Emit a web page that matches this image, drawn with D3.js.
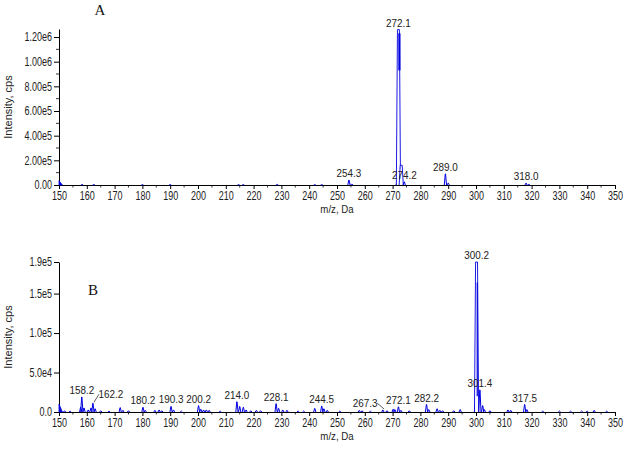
<!DOCTYPE html>
<html><head><meta charset="utf-8">
<script src="https://cdn.jsdelivr.net/npm/d3@7"></script>
<style>
body{margin:0;background:#fff;}
svg{display:block;font-family:"Liberation Sans",Arial,sans-serif;}
</style></head>
<body><svg id="c" width="629" height="453"></svg>
<script>
// ---------- data ----------
const xTickValues = [150,160,170,180,190,200,210,220,230,240,250,260,270,280,290,300,310,320,330,340,350];
const xMinorValues = [155,165,175,185,195,205,215,225,235,245,255,265,275,285,295,305,315,325,335,345];

// Panel A
const yTicksA = [0,200000,400000,600000,800000,1000000,1200000];
const yLabelsA = ["0.00","2.00e5","4.00e5","6.00e5","8.00e5","1.00e6","1.20e6"];
const yMinorA = [100000,300000,500000,700000,900000,1100000];
const peaksA_mz  = [158.3,162.5,180.0,190.0,214.6,216.3,228.5,242.0,244.5,254.3,255.3,271.6,272.1,273.1,274.2,289.0,290.0,318.0,319.0];
const peaksA_int = [4000,4000,3000,3000,4000,4000,5000,2000,3000,40000,8000,15000,1260000,160000,25000,90000,15000,15000,5000];
const edgeA = 35000;           // signal at the left edge (m/z 150)
const labelsA_mz   = [254.3,272.1,274.2,289.0,318.0];
const labelsA_int  = [40000,1260000,25000,90000,15000];
const labelsA_text = ["254.3","272.1","274.2","289.0","318.0"];

// Panel B
const yTicksB = [0,50000,100000,150000,190000];
const yLabelsB = ["0.0","5.0e4","1.0e5","1.5e5","1.9e5"];
const peaksB_mz  = [152.0,154.0,157.8,158.2,159.0,160.5,161.5,162.2,163.0,165.0,168.0,172.0,173.0,175.0,180.2,181.0,184.5,186.0,187.0,190.3,191.2,194.0,200.2,201.0,202.0,203.0,204.0,208.0,214.0,215.0,216.3,217.3,219.0,221.0,222.5,228.1,229.0,230.5,232.0,236.0,238.0,242.0,244.5,245.3,246.5,251.0,258.0,259.0,262.0,266.5,268.0,270.2,270.8,272.1,273.0,276.0,282.2,283.0,286.0,287.0,288.0,292.0,294.3,299.8,300.2,301.4,302.4,303.0,305.0,311.5,312.5,317.5,318.3,324.0,330.0,334.0,338.0,340.0,342.5,347.0];
const peaksB_int = [1500,1000,6000,19000,5000,2500,5000,11000,4000,1500,1000,5500,2000,1500,6000,2000,2000,2500,1500,7000,2500,1200,8000,3500,2500,2500,2000,1000,13000,7000,6000,2500,1500,2000,1500,10500,4500,2500,2000,1200,1200,4500,7500,4000,2000,1000,2000,1500,1000,2500,1500,3500,3000,6500,2000,1500,9500,3000,4000,2000,1500,1500,3000,10000,190000,28000,8000,3000,1500,2500,2000,9500,3000,1000,1200,1000,1200,1000,2000,1000];
const edgeB = 10000;
const labelsB_mz   = [158.2,162.2,180.2,190.3,200.2,214.0,228.1,244.5,267.3,272.1,282.2,300.2,301.4,317.5];
const labelsB_int  = [19000,11000,6000,7000,8000,13000,10500,7500,2500,6500,9500,190000,28000,9500];
const labelsB_text = ["158.2","162.2","180.2","190.3","200.2","214.0","228.1","244.5","267.3","272.1","282.2","300.2","301.4","317.5"];

// centroid (inner) traces of the main peaks: [m/z, top, bottom]
const innerA = [272.45, 1230000, 930000];
const innerB = [300.45, 164000, 20000];

// ---------- layout ----------
const svg = d3.select("#c");
const X0 = 59, X1 = 615;
const TICK_FONT = 12, TICK_SCALE = 0.75, LABEL_SCALE = 0.9;
const BLUE = "#0000e0";
// leader-line label offsets (pixels) for crowded labels in panel B
const labelShiftB = {"162.2":[18,-2], "267.3":[-20,0]};

function panel(cfg){
  const x = d3.scaleLinear().domain([150,350]).range([X0,X1]);
  const y = d3.scaleLinear().domain([0,cfg.yMax]).range([cfg.bottom,cfg.top]);
  const g = svg.append("g");

  // minor x ticks
  g.append("g").selectAll("line").data(xMinorValues).join("line")
    .attr("x1",d=>x(d)).attr("x2",d=>x(d))
    .attr("y1",cfg.bottom).attr("y2",cfg.bottom+2.5)
    .attr("stroke","#000").attr("stroke-width",0.8);
  if(cfg.yMinor){
    g.append("g").selectAll("line").data(cfg.yMinor).join("line")
      .attr("x1",X0-3).attr("x2",X0)
      .attr("y1",d=>y(d)).attr("y2",d=>y(d))
      .attr("stroke","#000").attr("stroke-width",0.8);
  }

  const xa = g.append("g").attr("transform",`translate(0,${cfg.bottom})`)
    .call(d3.axisBottom(x).tickValues(xTickValues).tickSize(4).tickSizeOuter(0).tickPadding(2).tickFormat(d3.format("d")));
  const ya = g.append("g").attr("transform",`translate(${X0},0)`)
    .call(d3.axisLeft(y).tickValues(cfg.yTicks).tickSize(5).tickSizeOuter(0).tickPadding(2)
      .tickFormat((d,i)=>cfg.yLabels[i]));
  [xa,ya].forEach(a=>{
    a.select(".domain").attr("stroke","#000").attr("stroke-width",1);
    a.selectAll(".tick line").attr("stroke","#000");
    a.selectAll("text").attr("font-size",TICK_FONT).attr("fill","#222")
      .attr("font-family","'Liberation Sans',Arial,sans-serif");
  });
  xa.selectAll("text").attr("transform",`scale(${TICK_SCALE},1)`);
  ya.selectAll("text").attr("x",-7/TICK_SCALE).attr("transform",`scale(${TICK_SCALE},1)`);

  // axis titles
  g.append("text").attr("transform",`translate(12,${(cfg.top+cfg.bottom)/2}) rotate(-90)`)
    .attr("text-anchor","middle").attr("font-size",11).attr("fill","#222").text("Intensity, cps");
  g.append("text").attr("transform",`translate(337,${cfg.bottom+28}) scale(0.88,1)`)
    .attr("text-anchor","middle").attr("font-size",11).attr("fill","#222").text("m/z, Da");

  // panel letter
  g.append("text").attr("x",cfg.letterX).attr("y",cfg.letterY)
    .attr("font-family","'Liberation Serif','Times New Roman',serif").attr("font-size",15)
    .attr("text-anchor","middle").attr("fill","#111").text(cfg.letter);

  // peaks
  const peaks = cfg.mz.map((m,i)=>({m, h:cfg.int[i]}));
  g.append("g").selectAll("path").data(peaks).join("path")
    .attr("d",d=>{
      const w = d.h > 100000 ? 0.75 : 0.4;
      const t = d.h > 100000 ? 0.35 : 0.05;
      return `M${x(d.m-w)},${y(0)}L${x(d.m-t)},${y(d.h)}L${x(d.m+t)},${y(d.h)}L${x(d.m+w)},${y(0)}`;
    })
    .attr("fill",d=>d.h>100000?"#fff":"none")
    .attr("stroke",BLUE).attr("stroke-width",d=>d.h>100000?0.9:1);
  // inner centroid trace
  g.append("line").attr("x1",x(cfg.inner[0])).attr("x2",x(cfg.inner[0]))
    .attr("y1",y(cfg.inner[1])).attr("y2",y(cfg.inner[2]))
    .attr("stroke",BLUE).attr("stroke-width",cfg.innerW);
  // edge signal at m/z 150
  g.append("path")
    .attr("d",`M${x(150)},${y(0)}L${x(150)},${y(cfg.edge)}L${x(151.2)},${y(0)}Z`)
    .attr("fill",BLUE).attr("stroke",BLUE).attr("stroke-width",0.8);

  // peak labels
  const labs = cfg.labMz.map((m,i)=>({m, h:cfg.labInt[i], t:cfg.labText[i]}));
  const lg = g.append("g");
  labs.forEach(d=>{
    const sh = (cfg.shift && cfg.shift[d.t]) || [0,0];
    const lx = x(d.m)+sh[0], ly = y(d.h)-3+sh[1];
    lg.append("text").attr("transform",`translate(${lx},${ly}) scale(${LABEL_SCALE},1)`)
      .attr("text-anchor","middle").attr("font-size",11).attr("fill","#222").text(d.t);
    if(sh[0]!==0){
      const ex = sh[0]>0 ? lx-12 : lx+12;
      lg.append("line").attr("x1",x(d.m)+(sh[0]>0?1:-1)).attr("y1",y(d.h)-1)
        .attr("x2",ex).attr("y2",ly-4).attr("stroke","#333").attr("stroke-width",0.8);
    }
  });
}

panel({top:29,bottom:185,yMax:1265000,yTicks:yTicksA,yLabels:yLabelsA,yMinor:yMinorA,
  mz:peaksA_mz,int:peaksA_int,edge:edgeA,labMz:labelsA_mz,labInt:labelsA_int,labText:labelsA_text,
  inner:innerA,innerW:2.2,letter:"A",letterX:100,letterY:15});
panel({top:262,bottom:412,yMax:190000,yTicks:yTicksB,yLabels:yLabelsB,yMinor:null,
  mz:peaksB_mz,int:peaksB_int,edge:edgeB,labMz:labelsB_mz,labInt:labelsB_int,labText:labelsB_text,
  inner:innerB,innerW:1.2,letter:"B",letterX:93,letterY:295,shift:labelShiftB});
</script></body></html>
